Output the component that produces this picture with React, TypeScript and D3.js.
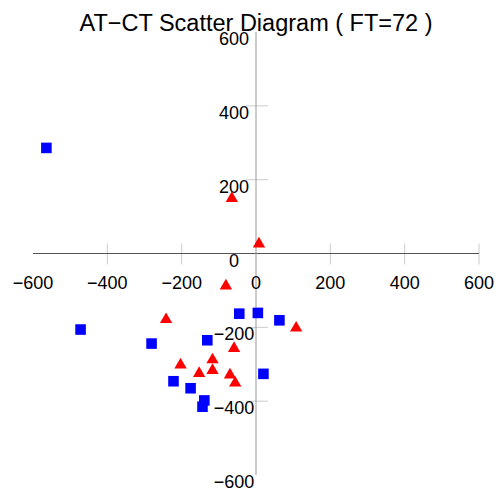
import { FC, useEffect, useRef } from "react";
import * as d3 from "d3";

// AT / CT pairs
const blueAT = [-564, -472, -281, -131, -222, -176, -139, -144, -45, 5, 63, 20];
const blueCT = [286, -206, -244, -235, -346, -365, -398, -415, -163, -161, -181, -326];
const redAT = [-65, 8, -81, -242, -203, -153, -117, -117, 108, -59, -70, -56];
const redCT = [154, 31, -83, -174, -297, -320, -283, -312, -197, -252, -324, -346];

const xTickLabels = [-600, -400, -200, 0, 200, 400, 600];
const yTickLabels = [600, 400, 200, 0, -200, -400, -600];
const xTickMarks = [-400, -200, 200, 400, 600];
const yTickMarks = [400, 200, -200, -400];

const title = "AT\u2212CT Scatter Diagram ( FT=72 )";
const fmt = (v: number) => (v < 0 ? "\u2212" + Math.abs(v) : String(v));

const App: FC = () => {
  const ref = useRef<SVGSVGElement>(null);

  useEffect(() => {
    const svg = d3.select(ref.current);
    svg.selectAll("*").remove();

    const x = d3.scaleLinear().domain([-600, 600]).range([33, 479]);
    const y = d3.scaleLinear().domain([-600, 600]).range([475, 32]);
    const x0 = x(0);
    const y0 = y(0);
    const font = "Liberation Sans, Arial, sans-serif";

    svg
      .append("text")
      .attr("x", 256)
      .attr("y", 31)
      .attr("text-anchor", "middle")
      .attr("font-family", font)
      .attr("font-size", 23.5)
      .text(title);

    //tick marks
    xTickMarks.forEach((t) =>
      svg
        .append("line")
        .attr("x1", x(t))
        .attr("x2", x(t))
        .attr("y1", y0 - 10)
        .attr("y2", y0 + 11)
        .attr("stroke", "#cccccc")
    );
    yTickMarks.forEach((t) =>
      svg
        .append("line")
        .attr("x1", x0 - 10)
        .attr("x2", x0 + 12)
        .attr("y1", y(t))
        .attr("y2", y(t))
        .attr("stroke", "#cccccc")
    );

    //axis lines
    svg
      .append("line")
      .attr("x1", x(-600))
      .attr("x2", x(600))
      .attr("y1", y0)
      .attr("y2", y0)
      .attr("stroke", "#555555");
    svg
      .append("line")
      .attr("x1", x0)
      .attr("x2", x0)
      .attr("y1", y(600))
      .attr("y2", y(-600))
      .attr("stroke", "#999999");

    //tick labels
    xTickLabels.forEach((t) =>
      svg
        .append("text")
        .attr("x", x(t))
        .attr("y", y0 + 35)
        .attr("text-anchor", "middle")
        .attr("font-family", font)
        .attr("font-size", 18)
        .text(fmt(t))
    );
    yTickLabels.forEach((t) =>
      svg
        .append("text")
        .attr("x", 234)
        .attr("y", y(t) + 13)
        .attr("text-anchor", "middle")
        .attr("font-family", font)
        .attr("font-size", 18)
        .text(fmt(t))
    );

    const square = d3.symbol(d3.symbolSquare, 112);
    const triangle = d3.symbol(d3.symbolTriangle, 66);

    blueAT.forEach((v, i) =>
      svg
        .append("path")
        .attr("d", square())
        .attr("transform", `translate(${x(v)},${y(blueCT[i])})`)
        .attr("fill", "#0000ff")
    );
    redAT.forEach((v, i) =>
      svg
        .append("path")
        .attr("d", triangle())
        .attr("transform", `translate(${x(v)},${y(redCT[i]) + 1.8})`)
        .attr("fill", "#ff0000")
    );
  }, []);

  return (
    <svg
      ref={ref}
      width={501}
      height={490}
      style={{ position: "absolute", left: 0, top: 0, background: "#ffffff" }}
    />
  );
};

export default App;
